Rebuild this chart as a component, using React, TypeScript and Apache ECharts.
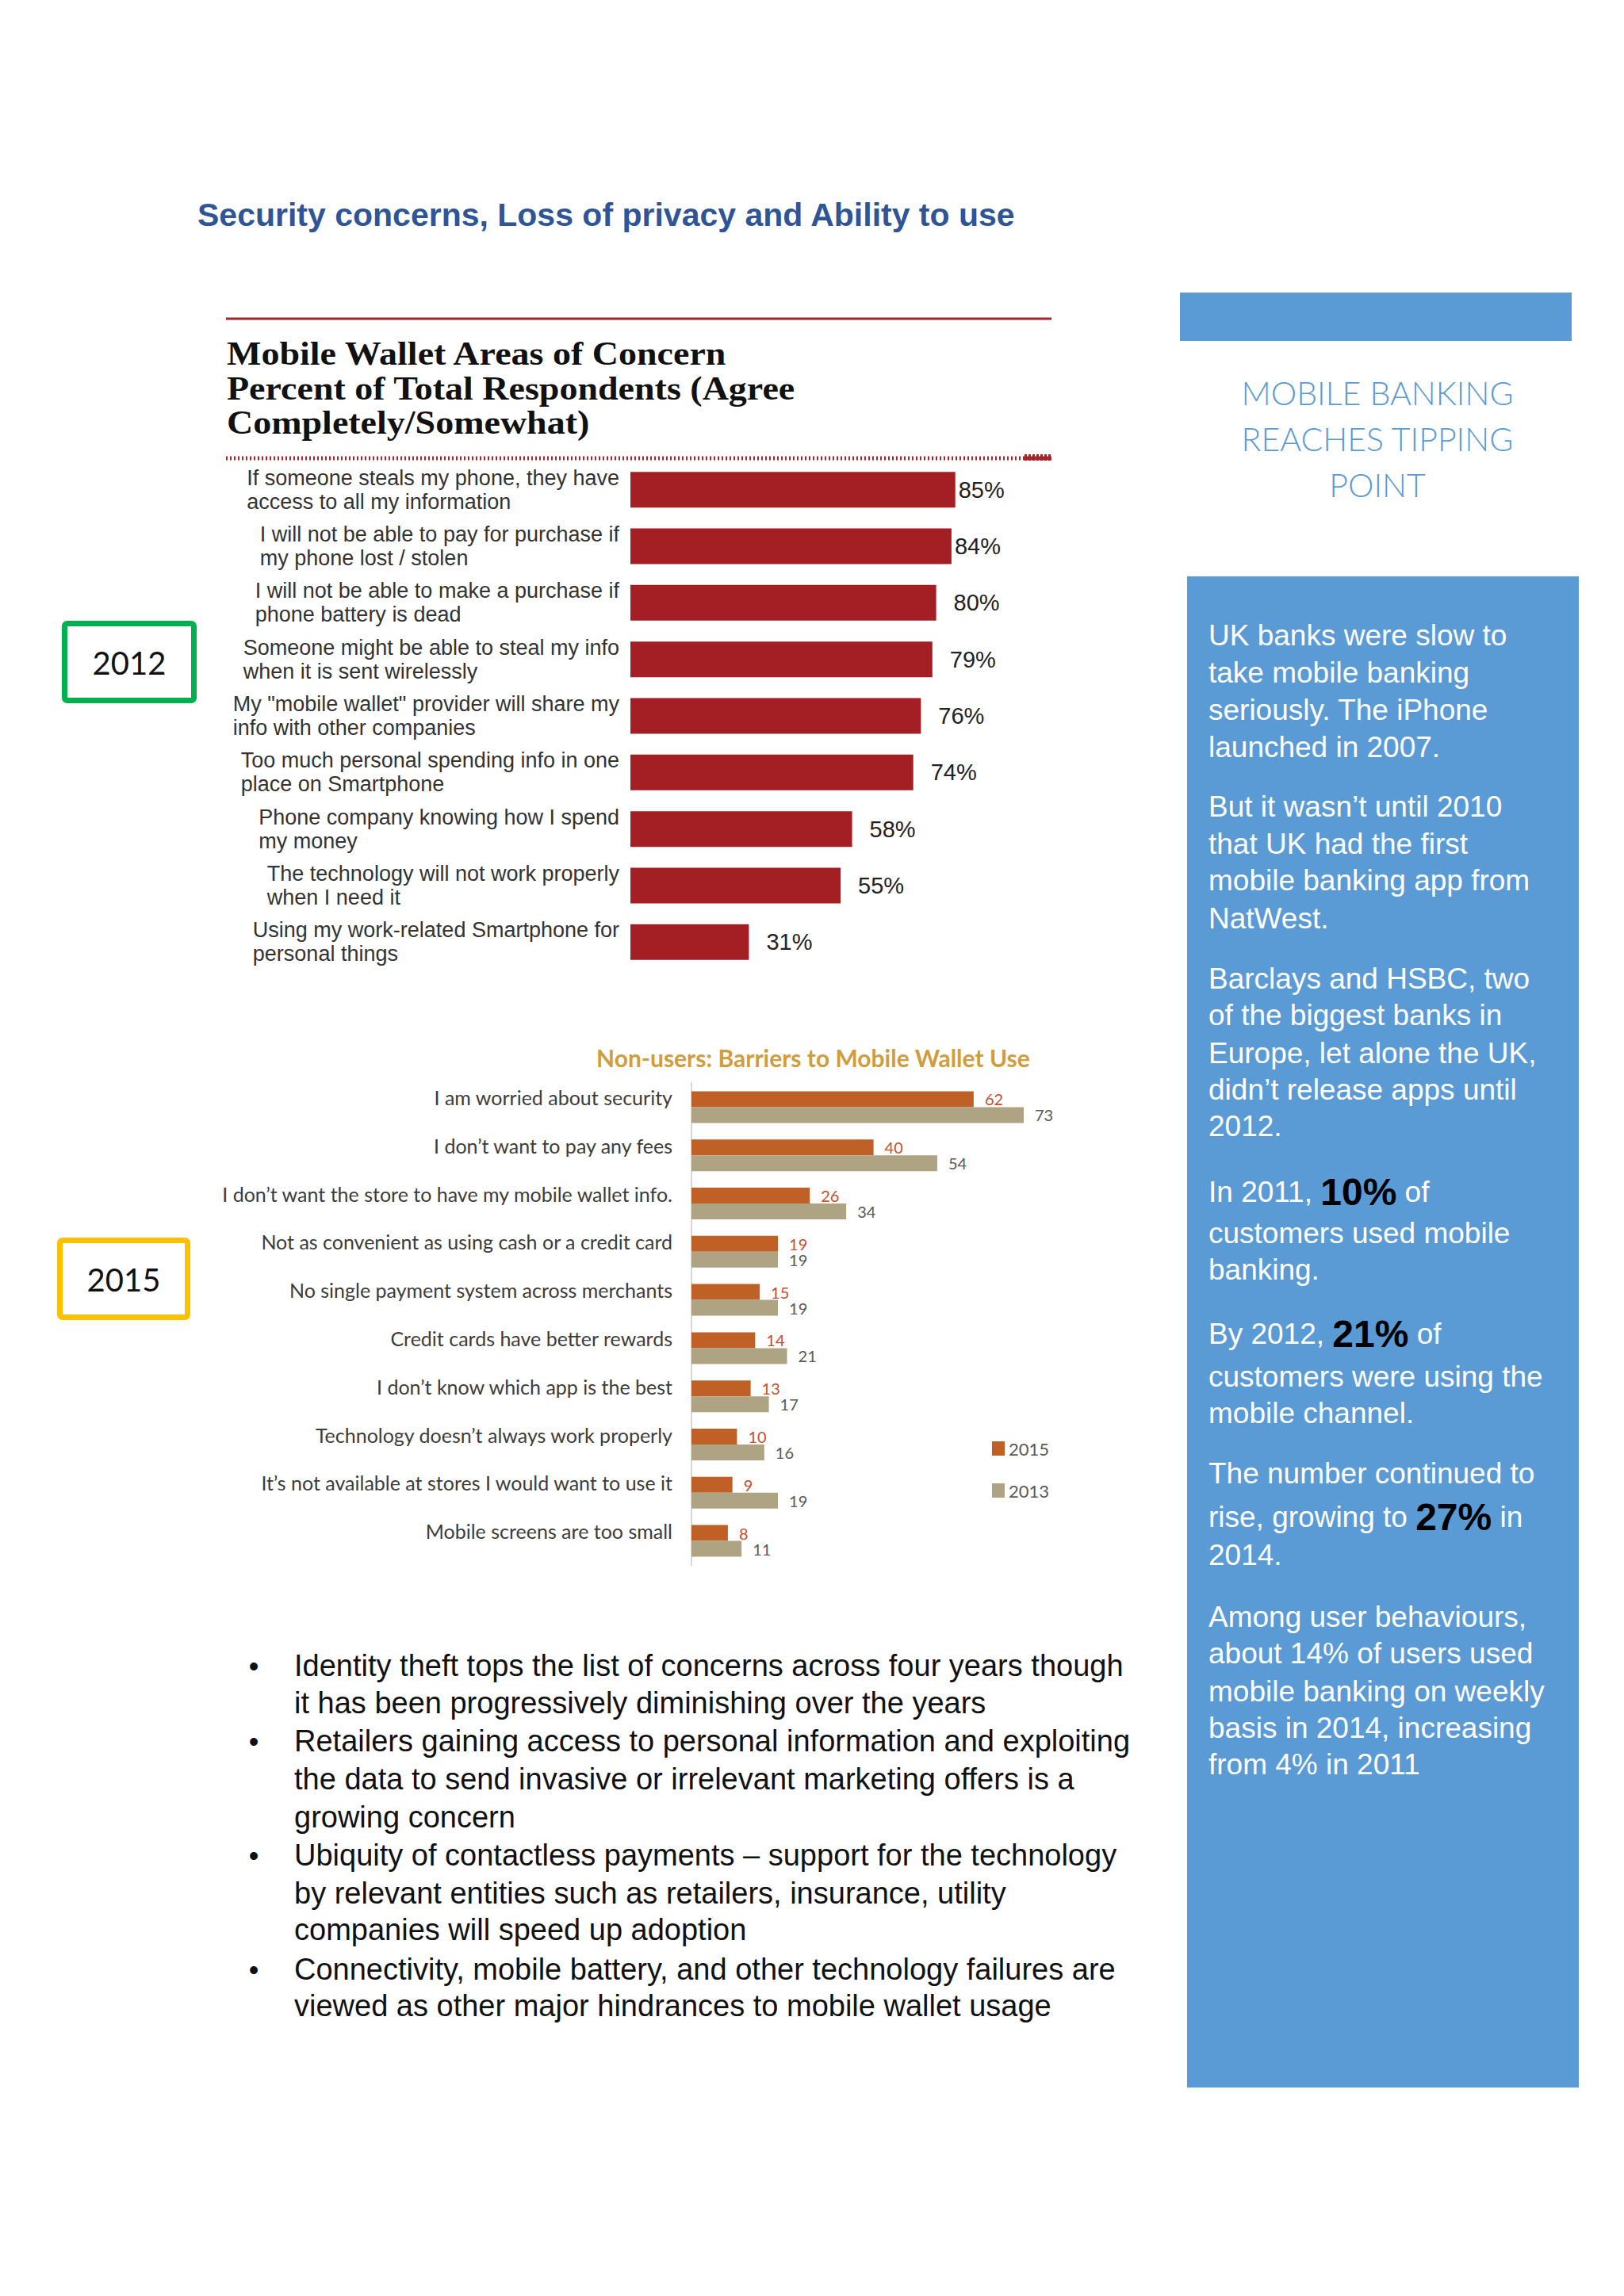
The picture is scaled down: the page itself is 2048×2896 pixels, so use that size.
import React, { useEffect, useRef } from 'react';
import * as echarts from 'echarts';

// ---------- data ----------
const pageTitle = 'Security concerns, Loss of privacy and Ability to use';

const concernTitleLines = [
  'Mobile Wallet Areas of Concern',
  'Percent of Total Respondents (Agree',
  'Completely/Somewhat)',
];
const concernCategories = [
  'If someone steals my phone, they have\naccess to all my information',
  'I will not be able to pay for purchase if\nmy phone lost / stolen',
  'I will not be able to make a purchase if\nphone battery is dead',
  'Someone might be able to steal my info\nwhen it is sent wirelessly',
  'My "mobile wallet" provider will share my\ninfo with other companies',
  'Too much personal spending info in one\nplace on Smartphone',
  'Phone company knowing how I spend\nmy money',
  'The technology will not work properly\nwhen I need it',
  'Using my work-related Smartphone for\npersonal things',
];
const concernValues = [85, 84, 80, 79, 76, 74, 58, 55, 31];

const barrierTitle = 'Non-users: Barriers to Mobile Wallet Use';
const barrierCategories = [
  'I am worried about security',
  'I don’t want to pay any fees',
  'I don’t want the store to have my mobile wallet info.',
  'Not as convenient as using cash or a credit card',
  'No single payment system across merchants',
  'Credit cards have better rewards',
  'I don’t know which app is the best',
  'Technology doesn’t always work properly',
  'It’s not available at stores I would want to use it',
  'Mobile screens are too small',
];
const barrierYears = ['2015', '2013'];
const barrier2015 = [62, 40, 26, 19, 15, 14, 13, 10, 9, 8];
const barrier2013 = [73, 54, 34, 19, 19, 21, 17, 16, 19, 11];

const yearBoxes = ['2012', '2015'];

const sideHeading = ['MOBILE BANKING', 'REACHES TIPPING', 'POINT'];
const sideLines = [
  'UK banks were slow to',
  'take mobile banking',
  'seriously. The iPhone',
  'launched in 2007.',
  'But it wasn’t until 2010',
  'that UK had the first',
  'mobile banking app from',
  'NatWest.',
  'Barclays and HSBC, two',
  'of the biggest banks in',
  'Europe, let alone the UK,',
  'didn’t release apps until',
  '2012.',
  'In 2011, {b|10%} of',
  'customers used mobile',
  'banking.',
  'By 2012, {b|21%} of',
  'customers were using the',
  'mobile channel.',
  'The number continued to',
  'rise, growing to {b|27%} in',
  '2014.',
  'Among user behaviours,',
  'about 14% of users used',
  'mobile banking on weekly',
  'basis in 2014, increasing',
  'from 4% in 2011',
];

const bulletLines = [
  'Identity theft tops the list of concerns across four years though',
  'it has been progressively diminishing over the years',
  'Retailers gaining access to personal information and exploiting',
  'the data to send invasive or irrelevant marketing offers is a',
  'growing concern',
  'Ubiquity of contactless payments – support for the technology',
  'by relevant entities such as retailers, insurance, utility',
  'companies will speed up adoption',
  'Connectivity, mobile battery, and other technology failures are',
  'viewed as other major hindrances to mobile wallet usage',
];
const bulletStarts = [0, 2, 5, 8];

// ---------- layout (not data) ----------
const SIDE_Y = [
  801, 848, 895, 942,
  1017, 1064, 1110, 1158,
  1234, 1280, 1328, 1374, 1420,
  1503, 1555, 1601,
  1682, 1736, 1782,
  1858, 1913, 1961,
  2039, 2085, 2133, 2179, 2225,
];
const BULLET_Y = [2101, 2148, 2196, 2244, 2292, 2340, 2388, 2434, 2484, 2530];

const SANS = '"Liberation Sans", Arial, sans-serif';
const SERIF = '"Liberation Serif", "Times New Roman", serif';
const CAL = 'Lato, "Open Sans", sans-serif';

export default function App() {
  const ref = useRef<HTMLDivElement>(null);

  useEffect(() => {
    if (!ref.current) return;
    const chart = echarts.init(ref.current, undefined, { renderer: 'svg' });

    const graphics: any[] = [];

    // page title
    graphics.push({
      type: 'text', x: 249, y: 271,
      style: { text: pageTitle, fill: '#2F5597', font: `bold 41px ${SANS}`, align: 'left', verticalAlign: 'middle' },
    });

    // chart 1 frame lines
    graphics.push({
      type: 'line', shape: { x1: 285, y1: 402, x2: 1326, y2: 402 },
      style: { stroke: '#A5252A', lineWidth: 3 },
    });
    graphics.push({
      type: 'line', shape: { x1: 285, y1: 578, x2: 1326, y2: 578 },
      style: { stroke: '#A5252A', lineWidth: 5, lineDash: [2, 3] },
    });
    graphics.push({
      type: 'line', shape: { x1: 1292, y1: 577, x2: 1326, y2: 577 },
      style: { stroke: '#A5252A', lineWidth: 8, lineDash: [3, 2] },
    });
    concernTitleLines.forEach((t, i) => {
      graphics.push({
        type: 'text', x: 286, y: 446 + i * 43.5, scaleX: 1.07,
        style: { text: t, fill: '#111', font: `bold 43px ${SERIF}`, align: 'left', verticalAlign: 'middle' },
      });
    });

    // chart 2 title
    graphics.push({
      type: 'text', x: 752, y: 1334,
      style: { text: barrierTitle, fill: '#CF9C3E', font: `bold 30px ${CAL}`, align: 'left', verticalAlign: 'middle' },
    });

    // year boxes
    const boxes = [
      { x: 81.5, y: 786.5, w: 163, h: 97, color: '#00B050' },
      { x: 75.5, y: 1564.5, w: 161, h: 97, color: '#FFC000' },
    ];
    boxes.forEach((b, i) => {
      graphics.push({
        type: 'rect', shape: { x: b.x, y: b.y, width: b.w, height: b.h, r: 3 },
        style: { fill: '#fff', stroke: b.color, lineWidth: 7 },
      });
      graphics.push({
        type: 'text', x: b.x + b.w / 2, y: b.y + b.h / 2 + 1,
        style: { text: yearBoxes[i], fill: '#111', font: `40px ${CAL}`, align: 'center', verticalAlign: 'middle' },
      });
    });

    // side panel
    graphics.push({
      type: 'rect', shape: { x: 1488, y: 369, width: 494, height: 61 },
      style: { fill: '#5B9BD5' },
    });
    sideHeading.forEach((t, i) => {
      graphics.push({
        type: 'text', x: 1737, y: 495 + i * 58,
        style: { text: t, fill: '#5B9BD5', font: `300 41px ${CAL}`, align: 'center', verticalAlign: 'middle' },
      });
    });
    graphics.push({
      type: 'rect', shape: { x: 1497, y: 727, width: 494, height: 1906 },
      style: { fill: '#5B9BD5' },
    });
    sideLines.forEach((t, i) => {
      graphics.push({
        type: 'text', x: 1524, y: SIDE_Y[i],
        style: {
          text: t, fill: '#fff', fontSize: 37, fontFamily: SANS, align: 'left', verticalAlign: 'middle',
          rich: { b: { fontSize: 48, fontWeight: 'bold', fill: '#000', fontFamily: SANS } },
        },
      });
    });

    // bullets
    bulletLines.forEach((t, i) => {
      graphics.push({
        type: 'text', x: 371, y: BULLET_Y[i],
        style: { text: t, fill: '#111', font: `38px ${SANS}`, align: 'left', verticalAlign: 'middle' },
      });
      if (bulletStarts.includes(i)) {
        graphics.push({
          type: 'text', x: 320, y: BULLET_Y[i],
          style: { text: '•', fill: '#111', font: `36px ${SANS}`, align: 'center', verticalAlign: 'middle' },
        });
      }
    });

    const option: any = {
      animation: false,
      backgroundColor: '#ffffff',
      grid: [
        { left: 795, top: 582, width: 482, height: 642, containLabel: false },
        { left: 872, top: 1366, width: 574, height: 608, containLabel: false },
      ],
      xAxis: [
        { type: 'value', gridIndex: 0, min: 0, max: 100, show: false },
        { type: 'value', gridIndex: 1, min: 0, max: 100, show: false },
      ],
      yAxis: [
        {
          type: 'category', gridIndex: 0, inverse: true, data: concernCategories,
          axisLine: { show: false }, axisTick: { show: false }, splitLine: { show: false },
          axisLabel: {
            margin: 14,
            formatter: (v: string) => v.split('\n').map((s) => `{a|${s}}`).join('\n'),
            rich: { a: { fontSize: 27, fontFamily: SANS, color: '#333', lineHeight: 30, align: 'left' } },
          },
        },
        {
          type: 'category', gridIndex: 1, inverse: true, data: barrierCategories,
          axisLine: { show: true, lineStyle: { color: '#D6D6D6', width: 2 } },
          axisTick: { show: false }, splitLine: { show: false },
          axisLabel: {
            margin: 24, fontSize: 25, fontFamily: CAL, color: '#3c3c3c', verticalAlign: 'bottom',
          },
        },
      ],
      legend: {
        data: barrierYears,
        orient: 'vertical', left: 1246, top: 1811,
        itemWidth: 16, itemHeight: 18, itemGap: 31, icon: 'rect',
        textStyle: { fontSize: 22, fontFamily: CAL, color: '#595959' },
      },
      series: [
        {
          name: 'Concern', type: 'bar', xAxisIndex: 0, yAxisIndex: 0,
          data: concernValues.map((v, i) => ({ value: v, label: { distance: i < 2 ? 4 : 22 } })),
          barWidth: 45,
          itemStyle: { color: '#A31F24' },
          label: {
            show: true, position: 'right', formatter: '{c}%',
            fontSize: 29, fontFamily: SANS, color: '#222',
          },
        },
        {
          name: barrierYears[0], type: 'bar', xAxisIndex: 1, yAxisIndex: 1,
          data: barrier2015, barWidth: 20, barGap: '0%',
          itemStyle: { color: '#BF6027' },
          label: {
            show: true, position: 'right', distance: 14, fontSize: 20, lineHeight: 19,
            fontFamily: CAL, color: '#C24F2E',
          },
        },
        {
          name: barrierYears[1], type: 'bar', xAxisIndex: 1, yAxisIndex: 1,
          data: barrier2013, barWidth: 20, barGap: '0%',
          itemStyle: { color: '#AEA484' },
          label: {
            show: true, position: 'right', distance: 14, fontSize: 20, lineHeight: 19,
            fontFamily: CAL, color: '#595959',
          },
        },
      ],
      graphic: graphics,
    };

    chart.setOption(option);
    return () => chart.dispose();
  }, []);

  return (
    <div
      ref={ref}
      style={{ position: 'absolute', left: 0, top: 0, width: 2048, height: 2896 }}
    />
  );
}
